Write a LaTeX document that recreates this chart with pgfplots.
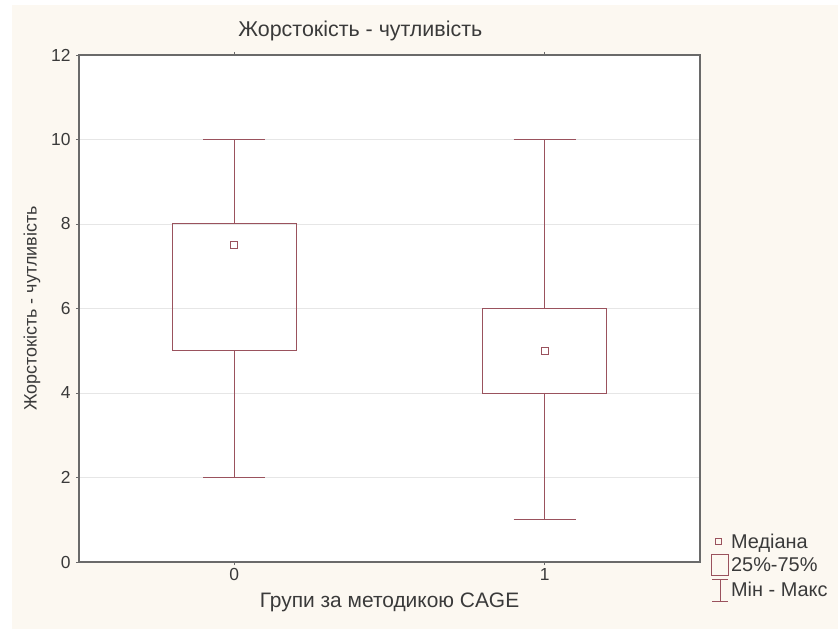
\documentclass[border=0pt]{standalone}
\usepackage{fontspec}
\setmainfont{Liberation Sans}
\usepackage{pgfplots}
\pgfplotsset{compat=1.18}
\usepgfplotslibrary{statistics}
\definecolor{bxred}{HTML}{9A525D}
\definecolor{cream}{HTML}{FCF8F1}
\definecolor{frame}{HTML}{6A6A6A}
\definecolor{txt}{HTML}{3A3A3A}
\definecolor{gridc}{HTML}{E6E6E6}

\begin{document}
\begin{tikzpicture}
\fill[white] (0bp,0bp) rectangle (838bp,629bp);
\fill[cream] (12bp,0bp) rectangle (838bp,624bp);
\begin{axis}[
  at={(79bp,67bp)}, anchor=south west,
  scale only axis, width=621bp, height=507bp,
  xmin=-0.5, xmax=1.5, ymin=0, ymax=12,
  xtick={0,1}, ytick={0,2,...,12},
  axis background/.style={fill=white},
  axis line style={frame, line width=1.2pt},
  ymajorgrids, grid style={gridc, line width=0.8pt},
  major tick length=3bp, tick style={frame, line width=0.8pt},
  xtick pos=both, ytick pos=left, tick align=outside,
  /pgf/number format/assume math mode=true,
  tick label style={font=\fontsize{17.5}{19}\selectfont, text=txt},
  yticklabel style={xshift=-2bp},
  title={Жорстокість - чутливість},
  title style={font=\fontsize{21.5}{23}\selectfont, text=txt, at={(rel axis cs:0.453,1)}, anchor=south, yshift=5bp},
  xlabel={Групи за методикою CAGE},
  xlabel style={font=\fontsize{21}{23}\selectfont, text=txt, yshift=-5bp},
  ylabel={Жорстокість - чутливість},
  ylabel style={font=\fontsize{18}{20}\selectfont, text=txt, yshift=4bp},
  boxplot/draw direction=y,
  boxplot/draw/median/.code={},
  boxplot/box extend=0.4,
  boxplot/whisker extend=0.2,
  legend style={at={(rel axis cs:1,0.062)}, anchor=north west, xshift=10bp,
    draw=none, fill=none, font=\fontsize{20}{22}\selectfont, text=txt,
    row sep=2.5bp, inner sep=1bp},
  legend cell align=left,
]
\addplot[forget plot, draw=bxred, line width=1pt, boxplot prepared={median=7.5, lower quartile=5, upper quartile=8, lower whisker=2, upper whisker=10, draw position=0}] coordinates {};
\addplot[forget plot, draw=bxred, line width=1pt, boxplot prepared={median=5, lower quartile=4, upper quartile=6, lower whisker=1, upper whisker=10, draw position=1}] coordinates {};
\addplot[forget plot, only marks, mark=square*, mark size=3.5bp, mark options={draw=bxred, fill=white, line width=0.9pt}] coordinates {(0,7.5) (1,5)};

\addlegendimage{legend image code/.code={\draw[bxred, line width=0.9pt] (3.5bp,-3bp) rectangle (9.5bp,3bp);}}
\addlegendentry{Медіана}
\addlegendimage{legend image code/.code={\draw[bxred, line width=0.9pt] (-0.5bp,-10.5bp) rectangle (16.5bp,10.5bp);}}
\addlegendentry{25\%-75\%}
\addlegendimage{legend image code/.code={\draw[bxred, line width=0.9pt] (8bp,-11bp) -- (8bp,11bp) (0bp,11bp) -- (16bp,11bp) (0bp,-11bp) -- (16bp,-11bp);}}
\addlegendentry{Мін - Макс}
\end{axis}
\end{tikzpicture}
\end{document}
